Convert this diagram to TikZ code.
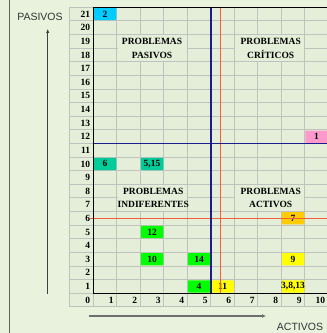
\documentclass[tikz,border=0pt]{standalone}
\usepackage{fontspec}
\setmainfont{Liberation Serif}
\newfontfamily\axisfont{Liberation Sans}
\usetikzlibrary{arrows.meta}
\definecolor{bg}{RGB}{232,242,220}
\definecolor{cellbg}{RGB}{228,238,216}
\definecolor{gridc}{RGB}{192,194,190}
\definecolor{framec}{RGB}{96,96,96}
\definecolor{arrowc}{RGB}{110,110,110}
\definecolor{bluec}{RGB}{28,28,140}
\definecolor{redc}{RGB}{240,96,60}
\definecolor{cyanc}{RGB}{0,204,255}
\definecolor{pinkc}{RGB}{255,153,204}
\definecolor{tealc}{RGB}{0,204,153}
\definecolor{greenc}{RGB}{0,255,0}
\definecolor{yellowc}{RGB}{255,255,0}
\definecolor{orangec}{RGB}{255,204,0}
\tikzset{
  gridline/.style={draw=gridc, line width=0.9pt},
  axisline/.style={draw=black, line width=1.4pt},
  blueline/.style={draw=bluec, line width=1.5pt},
  redline/.style={draw=redc, line width=0.9pt},
  lab/.style={font=\fontsize{9.5}{10}\selectfont\bfseries, inner sep=0pt},
  celltxt/.style={font=\fontsize{9.5}{10}\selectfont\bfseries, inner sep=0pt},
  quadtxt/.style={font=\fontsize{9.5}{10}\selectfont\bfseries, inner sep=0pt, align=center},
  axistitle/.style={font=\axisfont\fontsize{10.5}{12}\selectfont, text=black!80, inner sep=0pt},
  frameline/.style={draw=framec, line width=0.9pt},
  arrowv/.style={draw=black!75, line width=0.7pt, -{Latex[length=4pt,width=3.5pt]}},
  arrowh/.style={draw=arrowc, line width=1.6pt, -{Latex[length=4pt,width=4pt]}},
}
\newcommand{\colcell}[4]{%
  \fill[#3, rounded corners=0.8pt] (#1-1+0.02,#2+0.05) rectangle (#1-0.02,#2+1-0.05);
  \node[celltxt] (cell-#1-#2) at (#1-0.5,#2+0.5) {#4};
}
\begin{document}
\begin{tikzpicture}[x=1pt,y=1pt]
\useasboundingbox (0,0) rectangle (327,333);
\fill[bg] (0,0) rectangle (327,333);
% left frame line
\coordinate (ftop) at (9,333);
\coordinate (fbot) at (9,0);
\draw[frameline] (fbot) -- (ftop);
% axis titles
\node[axistitle] (pasivos) at (40,316.5) {PASIVOS};
\node[axistitle] (activos) at (300,6.5) {ACTIVOS};
% arrows
\coordinate (vbot) at (47.7,39);
\coordinate (vtop) at (47.7,304);
\draw[arrowv] (vbot) -- (vtop);
\coordinate (hl) at (89,17);
\coordinate (hr) at (266,17);
\draw[arrowh] (hl) -- (hr);
\begin{scope}[shift={(93.3,26.1)}, x=23.5pt, y=13.62pt]
  \fill[cellbg] (-1,0) rectangle (10,22);
  \foreach \i in {0,...,22} \draw[gridline] (-1,\i) -- (10,\i);
  \foreach \i in {-1,...,10} \draw[gridline] (\i,0) -- (\i,22);
  % merged regions
  \fill[cellbg] (1.03,18.06) rectangle (3.97,19.94);
  \fill[cellbg] (6.03,18.06) rectangle (8.97,19.94);
  \fill[cellbg] (1.03,7.06) rectangle (3.97,8.94);
  \fill[cellbg] (6.03,7.06) rectangle (8.97,8.94);
  \node[quadtxt] (pasq1) at (2.5,19.5) {PROBLEMAS};
  \node[quadtxt] (pasq2) at (2.5,18.5) {PASIVOS};
  \node[quadtxt] (criq1) at (7.55,19.5) {PROBLEMAS};
  \node[quadtxt] (criq2) at (7.55,18.5) {CRÍTICOS};
  \node[quadtxt] (indq1) at (2.55,8.5) {PROBLEMAS};
  \node[quadtxt] (indq2) at (2.55,7.5) {INDIFERENTES};
  \node[quadtxt] (actq1) at (7.55,8.5) {PROBLEMAS};
  \node[quadtxt] (actq2) at (7.55,7.5) {ACTIVOS};
  % coloured cells
  \colcell{1}{21}{cyanc}{2}
  \colcell{10}{12}{pinkc}{1}
  \colcell{1}{10}{tealc}{6}
  \colcell{3}{10}{tealc}{5,15}
  \colcell{3}{5}{greenc}{12}
  \colcell{3}{3}{greenc}{10}
  \colcell{5}{3}{greenc}{14}
  \colcell{5}{1}{greenc}{4}
  \colcell{6}{1}{yellowc}{11}
  \colcell{9}{6}{orangec}{7}
  \colcell{9}{3}{yellowc}{9}
  \colcell{9}{1}{yellowc}{3,8,13}
  % red lines
  \coordinate (rvt) at (5.43,22);
  \coordinate (rvb) at (5.43,1);
  \draw[redline] (rvb) -- (rvt);
  \coordinate (rhl) at (-0.14,6.5);
  \coordinate (rhr) at (10,6.5);
  \draw[redline] (rhl) -- (rhr);
  % blue lines
  \coordinate (bvt) at (5,22);
  \coordinate (bvb) at (5,1);
  \draw[blueline] (bvb) -- (bvt);
  \coordinate (bhl) at (0,12);
  \coordinate (bhr) at (10,12);
  \draw[blueline] (bhl) -- (bhr);
  % black axes
  \coordinate (o) at (0,1);
  \coordinate (ytop) at (0,22);
  \coordinate (xend) at (10,1);
  \coordinate (tend) at (10,22);
  \draw[axisline] (ytop) -- (o) -- (xend);
  \draw[axisline] (ytop) -- (tend);
  % row labels
  \foreach \r in {0,...,21} \node[lab, anchor=east] (row-\r) at ([xshift=-3pt]0,\r+0.5) {\r};
  % column labels
  \foreach \c in {1,...,10} \node[lab, anchor=east] (col-\c) at ([xshift=-3pt]\c,0.5) {\c};
\end{scope}
\end{tikzpicture}
\end{document}
